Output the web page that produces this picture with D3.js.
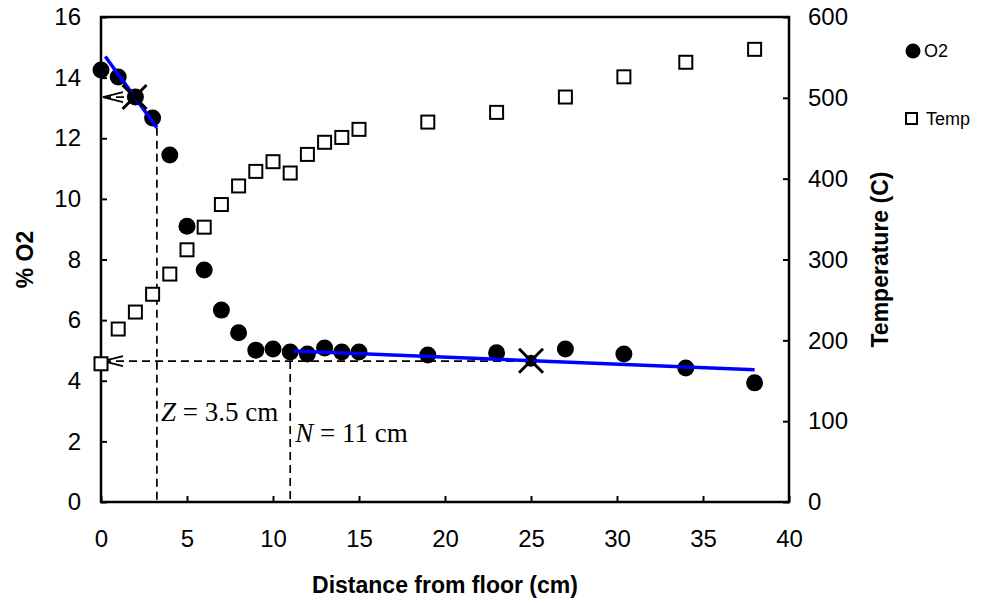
<!DOCTYPE html>
<html>
<head>
<meta charset="utf-8">
<script src="https://cdn.jsdelivr.net/npm/d3@7"></script>
<style>
  body { margin: 0; background: #fff; }
  svg { font-family: "Liberation Sans", Arial, sans-serif; }
</style>
</head>
<body>
<div id="chart"></div>
<script>
// distance from floor (cm)
var distance = [0, 1, 2, 3, 4, 5, 6, 7, 8, 9, 10, 11, 12, 13, 14, 15, 19, 23, 27, 30.4, 34, 38];
// % O2
var o2 = [14.25, 14.02, 13.36, 12.67, 11.45, 9.1, 7.65, 6.33, 5.58, 5.01, 5.05, 4.95, 4.88, 5.08, 4.95, 4.95,
          4.85, 4.92, 5.05, 4.88, 4.42, 3.93];
// temperature (C)
var temp = [171, 214, 235, 257, 282, 312, 340, 368, 391, 409, 421, 407, 430, 445, 451, 461,
            470, 482, 501, 526, 544, 560];

var xTicks = [0, 5, 10, 15, 20, 25, 30, 35, 40];
var o2Ticks = [0, 2, 4, 6, 8, 10, 12, 14, 16];
var tempTicks = [0, 100, 200, 300, 400, 500, 600];

// fitted lines [x0, y0, x1, y1] in O2 units
var fitLines = [[0.25, 14.7, 3.25, 12.35], [11.2, 4.98, 38, 4.36]];
// crossing markers
var crosses = [[1.95, 13.36], [25, 4.66]];
// Z and N guides: x position, O2 level
var zGuide = {x: 3.25, y: 13.36, yTop: 12.35};
var nGuide = {x: 11, y: 4.65};

var W = 984, H = 603;
var pLeft = 101, pRight = 789, pTop = 17, pBottom = 502;

var svg = d3.select("#chart").append("svg")
  .attr("width", W)
  .attr("height", H);

var x = d3.scaleLinear().domain([0, 40]).range([pLeft, pRight]);
var y = d3.scaleLinear().domain([0, 16]).range([pBottom, pTop]);
var yT = d3.scaleLinear().domain([0, 600]).range([pBottom, pTop]);

// axes (ticks point inwards)
var gx = svg.append("g")
  .attr("transform", "translate(0," + pBottom + ")")
  .call(d3.axisBottom(x).tickValues(xTicks).tickSizeInner(-6).tickSizeOuter(0).tickPadding(28));
var gy = svg.append("g")
  .attr("transform", "translate(" + pLeft + ",0)")
  .call(d3.axisLeft(y).tickValues(o2Ticks).tickSizeInner(-6).tickSizeOuter(0).tickPadding(20));
var gyr = svg.append("g")
  .attr("transform", "translate(" + pRight + ",0)")
  .call(d3.axisRight(yT).tickValues(tempTicks).tickSizeInner(-6).tickSizeOuter(0).tickPadding(19));

[gx, gy, gyr].forEach(function(g) {
  g.select(".domain").remove();
  g.selectAll(".tick line").attr("stroke", "#000").attr("stroke-width", 2);
  g.selectAll(".tick text").attr("font-size", 24).attr("fill", "#000")
    .attr("font-family", "'Liberation Sans', Arial, sans-serif");
});

svg.append("rect")
  .attr("x", pLeft).attr("y", pTop)
  .attr("width", pRight - pLeft).attr("height", pBottom - pTop)
  .attr("fill", "none").attr("stroke", "#000").attr("stroke-width", 2.5);

// axis titles
svg.append("text")
  .attr("transform", "translate(33," + ((pTop + pBottom) / 2) + ") rotate(-90)")
  .attr("text-anchor", "middle")
  .attr("font-size", 23).attr("font-weight", "bold")
  .text("% O2");
svg.append("text")
  .attr("transform", "translate(888," + ((pTop + pBottom) / 2) + ") rotate(-90)")
  .attr("text-anchor", "middle")
  .attr("font-size", 23).attr("font-weight", "bold")
  .text("Temperature (C)");
svg.append("text")
  .attr("x", (pLeft + pRight) / 2).attr("y", 593)
  .attr("text-anchor", "middle")
  .attr("font-size", 23).attr("font-weight", "bold")
  .text("Distance from floor (cm)");

// dashed guides
var guides = svg.append("g").attr("stroke", "#000").attr("stroke-width", 1.7)
  .attr("stroke-dasharray", "8,5").attr("fill", "none");
guides.append("line")
  .attr("x1", x(zGuide.x)).attr("x2", x(zGuide.x))
  .attr("y1", y(zGuide.yTop)).attr("y2", y(0));
guides.append("line")
  .attr("x1", x(0) + 2).attr("x2", x(crosses[0][0]))
  .attr("y1", y(zGuide.y)).attr("y2", y(zGuide.y));
guides.append("line")
  .attr("x1", x(0) + 2).attr("x2", x(crosses[1][0]))
  .attr("y1", y(nGuide.y)).attr("y2", y(nGuide.y));
guides.append("line")
  .attr("x1", x(nGuide.x)).attr("x2", x(nGuide.x))
  .attr("y1", y(nGuide.y)).attr("y2", y(0));

// open arrow heads at the left axis
[zGuide.y, nGuide.y].forEach(function(v) {
  var tx = x(0) + 2, ty = y(v);
  svg.append("path")
    .attr("d", "M" + (tx + 20) + "," + (ty - 5) + "L" + tx + "," + ty + "L" + (tx + 20) + "," + (ty + 5))
    .attr("fill", "none").attr("stroke", "#000").attr("stroke-width", 1.8);
});

// temperature squares
svg.append("g").selectAll("rect")
  .data(distance)
  .enter().append("rect")
  .attr("x", function(d) { return x(d) - 6.5; })
  .attr("y", function(d, i) { return yT(temp[i]) - 6.5; })
  .attr("width", 13).attr("height", 13)
  .attr("fill", "#fff").attr("stroke", "#000").attr("stroke-width", 2);

// O2 circles
svg.append("g").selectAll("circle")
  .data(distance)
  .enter().append("circle")
  .attr("cx", function(d) { return x(d); })
  .attr("cy", function(d, i) { return y(o2[i]); })
  .attr("r", 8.5)
  .attr("fill", "#000");

// point at the N crossing
svg.append("circle")
  .attr("cx", x(crosses[1][0])).attr("cy", y(crosses[1][1]))
  .attr("r", 6).attr("fill", "#000");

// fitted lines
svg.append("g").selectAll("line")
  .data(fitLines)
  .enter().append("line")
  .attr("x1", function(d) { return x(d[0]); })
  .attr("y1", function(d) { return y(d[1]); })
  .attr("x2", function(d) { return x(d[2]); })
  .attr("y2", function(d) { return y(d[3]); })
  .attr("stroke", "#0000ff").attr("stroke-width", 3.5);

// cross markers
crosses.forEach(function(c) {
  var cx = x(c[0]), cy = y(c[1]), s = 12;
  svg.append("path")
    .attr("d", "M" + (cx - s) + "," + (cy - s) + "L" + (cx + s) + "," + (cy + s) +
               "M" + (cx - s) + "," + (cy + s) + "L" + (cx + s) + "," + (cy - s))
    .attr("stroke", "#000").attr("stroke-width", 3).attr("fill", "none");
});

// annotations
var zt = svg.append("text")
  .attr("x", x(zGuide.x) + 4).attr("y", 421)
  .attr("font-family", "'Liberation Serif', 'Times New Roman', serif")
  .attr("font-size", 27);
zt.append("tspan").attr("font-style", "italic").text("Z");
zt.append("tspan").text(" = 3.5 cm");

var nt = svg.append("text")
  .attr("x", x(nGuide.x) + 5).attr("y", 442)
  .attr("font-family", "'Liberation Serif', 'Times New Roman', serif")
  .attr("font-size", 27);
nt.append("tspan").attr("font-style", "italic").text("N");
nt.append("tspan").text(" = 11 cm");

// legend
var legend = svg.append("g");
legend.append("circle").attr("cx", 913).attr("cy", 51).attr("r", 7.5).attr("fill", "#000");
legend.append("text").attr("x", 924).attr("y", 57).attr("font-size", 18).text("O2");
legend.append("rect").attr("x", 906).attr("y", 113).attr("width", 11).attr("height", 11)
  .attr("fill", "#fff").attr("stroke", "#000").attr("stroke-width", 2);
legend.append("text").attr("x", 926).attr("y", 125).attr("font-size", 18).text("Temp");
</script>
</body>
</html>
